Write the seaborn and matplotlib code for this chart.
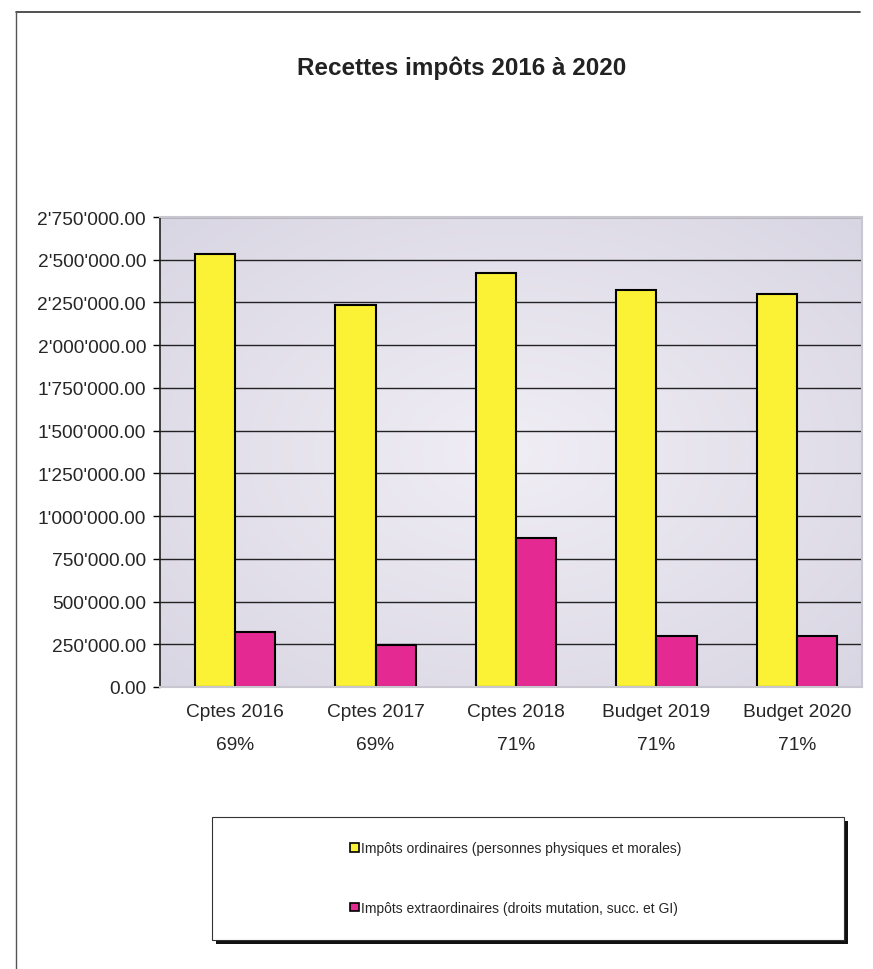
import numpy as np
import pandas as pd
import matplotlib
matplotlib.use('Agg')
import matplotlib.pyplot as plt
import matplotlib.patches as mpatches
import seaborn as sns

# valeurs
categories = ['Cptes 2016', 'Cptes 2017', 'Cptes 2018', 'Budget 2019', 'Budget 2020']
parts = ['69%', '69%', '71%', '71%', '71%']
series = ['Impôts ordinaires (personnes physiques et morales)',
          'Impôts extraordinaires (droits mutation, succ. et GI)']
ordinaires = [2533000, 2236000, 2422000, 2322000, 2300000]
extraordinaires = [321000, 243000, 873000, 298000, 298000]
couleurs = ['#FBF235', '#E42A92']

df = pd.DataFrame({
    'categorie': categories * 2,
    'serie': [series[0]] * 5 + [series[1]] * 5,
    'montant': ordinaires + extraordinaires,
})

sns.set_style('white')
plt.rcParams['font.family'] = ['Liberation Sans', 'DejaVu Sans']

fig = plt.figure(figsize=(8.73, 9.70), dpi=100)
ax = fig.add_axes([160 / 873, 1 - 688 / 970, 702 / 873, 470 / 970])

# fond dégradé lavande
yy, xx = np.mgrid[-1:1:200j, -1:1:200j]
r = np.sqrt(xx ** 2 + yy ** 2) / np.sqrt(2)
fond = np.zeros((200, 200, 3))
centre = np.array([0.94, 0.93, 0.96])
bord = np.array([0.85, 0.84, 0.89])
for i in range(3):
    fond[..., i] = centre[i] + (bord[i] - centre[i]) * r
ax.imshow(fond, extent=(0, 1, 0, 1), transform=ax.transAxes, aspect='auto', zorder=0)

sns.barplot(data=df, x='categorie', y='montant', hue='serie', order=categories,
            hue_order=series, palette=couleurs, saturation=1, width=0.57, dodge=True,
            edgecolor='black', linewidth=1.5, legend=False, ax=ax, zorder=2)

ax.set_xlim(-0.534, 4.463)
ax.set_ylim(0, 2750000)
ticks = np.arange(0, 2750001, 250000)
ax.set_yticks(ticks)
ax.set_yticklabels([f'{t:,.2f}'.replace(',', "'") for t in ticks], fontsize=13.8)
ax.set_xticks(range(len(categories)))
ax.set_xticklabels([f'{c}\n{p}' for c, p in zip(categories, parts)],
                   fontsize=13.8, linespacing=2.2)
ax.set_xlabel('')
ax.set_ylabel('')

ax.grid(axis='y', color='#222222', linewidth=1.0, zorder=1)
ax.grid(axis='x', visible=False)
ax.set_axisbelow(True)
ax.tick_params(axis='y', left=True, length=5, width=1, color='black', pad=5)
ax.tick_params(axis='x', bottom=False, pad=8)

ax.spines['left'].set_color('#222222')
ax.spines['left'].set_linewidth(1.2)
for s in ['top', 'right', 'bottom']:
    ax.spines[s].set_color('#C8C6CE')
    ax.spines[s].set_linewidth(1.5)

fig.text(462 / 873, 1 - 68 / 970, 'Recettes impôts 2016 à 2020',
         ha='center', va='center', fontsize=17.5, fontweight='bold', color='#222222')

# cadre de la page
fig.add_artist(plt.Line2D([16 / 873, 860 / 873], [1 - 13 / 970, 1 - 13 / 970],
                          color='#333333', linewidth=1.2))
fig.add_artist(plt.Line2D([16 / 873, 16 / 873], [1 - 13 / 970, 0],
                          color='#555555', linewidth=1.0))

# boîte de légende avec ombre
x0, x1, y0, y1 = 212, 844, 818, 941
fig.add_artist(mpatches.Rectangle(((x0 + 4) / 873, 1 - (y1 + 4) / 970),
                                  (x1 - x0) / 873, (y1 - y0) / 970,
                                  transform=fig.transFigure, facecolor='#111111',
                                  edgecolor='none'))
fig.add_artist(mpatches.Rectangle((x0 / 873, 1 - y1 / 970),
                                  (x1 - x0) / 873, (y1 - y0) / 970,
                                  transform=fig.transFigure, facecolor='white',
                                  edgecolor='#333333', linewidth=0.8))

handles = [mpatches.Patch(facecolor=c, edgecolor='black', linewidth=1.2) for c in couleurs]
leg = fig.legend(handles, series, loc='center', bbox_to_anchor=(516 / 873, 1 - 879 / 970),
                 frameon=False, fontsize=10, labelspacing=3.3,
                 handlelength=0.6, handleheight=0.6, handletextpad=0.2)
leg.set_zorder(5)

fig.savefig('out.png', dpi=100)
